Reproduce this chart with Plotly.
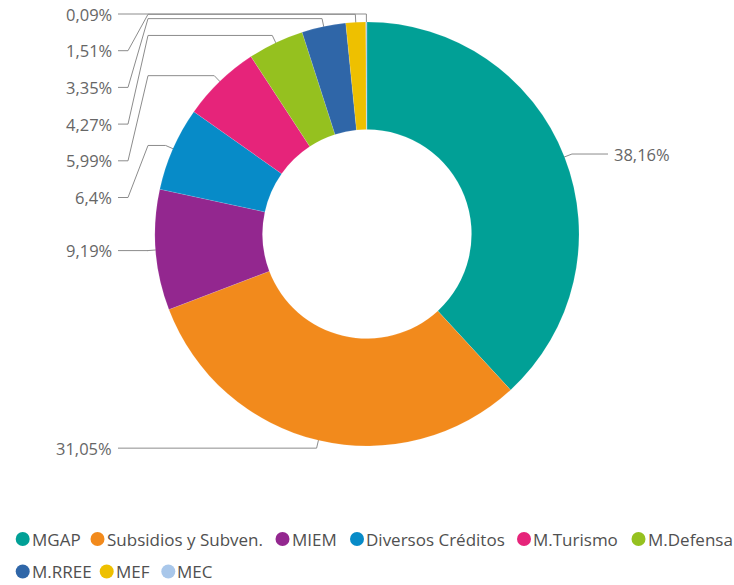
import math
import plotly.graph_objects as go

# ---- data ----
categories = ["MGAP", "Subsidios y Subven.", "MIEM", "Diversos Créditos", "M.Turismo",
              "M.Defensa", "M.RREE", "MEF", "MEC"]
shares = [38.16, 31.05, 9.19, 6.4, 5.99, 4.27, 3.35, 1.51, 0.09]
colors = ["#01A096", "#F28A1C", "#93278F", "#078BC8", "#E6247A",
          "#95C11F", "#2F66A8", "#EEC000", "#A9C7EA"]

# ---- layout constants (pixels) ----
W, H = 734, 585
CX, CY = 367, 234          # donut centre
R = 212                    # outer radius
HOLE = 0.493
R_IN = 200                 # leader start radius
R_L = 220                  # leader elbow radius
LEFT_TXT, LEFT_X0, LEFT_X1, LEFT_X2 = 114, 118, 128, 148
RIGHT_X, RIGHT_TXT = 608, 612
SPACING = 36.7
LINE_COLOR = "#8c8c8c"
LABEL_COLOR = "#666666"
FONT = "Open Sans, Segoe UI, sans-serif"

fig = go.Figure()

fig.add_trace(go.Pie(
    labels=categories, values=shares, hole=HOLE, sort=False, direction="clockwise",
    rotation=0, marker=dict(colors=colors, line=dict(color="rgba(255,255,255,0.4)", width=0.3)),
    textinfo="none", showlegend=False,
    domain=dict(x=[(CX - R) / W, (CX + R) / W], y=[(H - CY - R) / H, (H - CY + R) / H]),
    hoverinfo="label+percent",
))

# ---- leader lines and labels, computed from the data ----
total = sum(shares)
cum = 0.0
items = []
for cat, v in zip(categories, shares):
    mid = (cum + v / 2) / total * 2 * math.pi
    cum += v
    s, c = math.sin(mid), math.cos(mid)
    items.append(dict(cat=cat, v=v, s=s, c=c,
                      pin=(CX + R_IN * s, CY - R_IN * c),
                      pout=(CX + R_L * s, CY - R_L * c),
                      yd=CY - R_L * c))

def fmt(v):
    return ("%g" % v).replace(".", ",") + "%"

annotations = []
left = sorted([it for it in items if it["s"] < 0], key=lambda d: d["yd"])
prev = -1e9
for it in left:
    yl = max(it["yd"], prev + SPACING)
    prev = yl
    xs = [it["pin"][0], it["pout"][0], LEFT_X2, LEFT_X1, LEFT_X0]
    ys = [it["pin"][1], it["pout"][1], it["yd"], yl, yl]
    fig.add_trace(go.Scatter(x=xs, y=ys, mode="lines", line=dict(color=LINE_COLOR, width=1),
                             hoverinfo="skip", showlegend=False))
    annotations.append(dict(x=LEFT_TXT, y=yl, xref="x", yref="y", text=fmt(it["v"]),
                            showarrow=False, xanchor="right", yanchor="middle",
                            font=dict(size=16.5, color=LABEL_COLOR, family=FONT)))

right = sorted([it for it in items if it["s"] >= 0], key=lambda d: d["yd"])
prev = -1e9
for it in right:
    yl = max(it["yd"], prev + SPACING)
    prev = yl
    xs = [it["pin"][0], it["pout"][0], RIGHT_X]
    ys = [it["pin"][1], it["pout"][1], yl]
    fig.add_trace(go.Scatter(x=xs, y=ys, mode="lines", line=dict(color=LINE_COLOR, width=1),
                             hoverinfo="skip", showlegend=False))
    annotations.append(dict(x=RIGHT_TXT, y=yl, xref="x", yref="y", text=fmt(it["v"]),
                            showarrow=False, xanchor="left", yanchor="middle",
                            font=dict(size=16.5, color=LABEL_COLOR, family=FONT)))

# ---- legend (two rows, Power BI style) ----
legend_dot_x = [22.7, 97.5, 282.5, 357, 524, 638.5, 22.7, 106.7, 168.3]
legend_row_y = [539, 539, 539, 539, 539, 539, 571.5, 571.5, 571.5]
fig.add_trace(go.Scatter(x=legend_dot_x, y=legend_row_y, mode="markers",
                         marker=dict(size=14, color=colors), hoverinfo="skip", showlegend=False))
for cat, lx, ly in zip(categories, legend_dot_x, legend_row_y):
    annotations.append(dict(x=lx + 7, y=ly, xref="x", yref="y", text=cat, showarrow=False,
                            xanchor="left", yanchor="middle",
                            font=dict(size=17, color="#505050", family=FONT)))

fig.update_layout(
    width=W, height=H, margin=dict(l=0, r=0, t=0, b=0),
    paper_bgcolor="white", plot_bgcolor="rgba(0,0,0,0)",
    xaxis=dict(range=[0, W], visible=False, fixedrange=True),
    yaxis=dict(range=[H, 0], visible=False, fixedrange=True),
    annotations=annotations, showlegend=False,
)

fig.write_html("out.html", config=dict(displayModeBar=False),
               post_script="document.body.style.margin='0';document.body.style.overflow='hidden';")
